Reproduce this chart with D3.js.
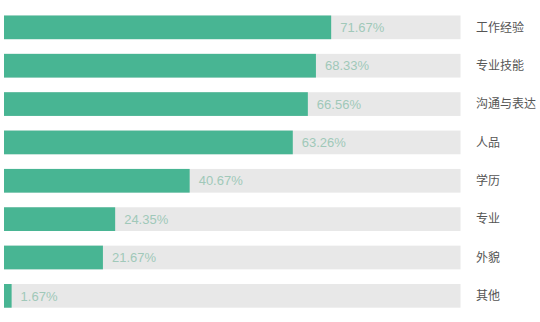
<!DOCTYPE html>
<html><head><meta charset="utf-8">
<script src="https://cdn.jsdelivr.net/npm/d3@7"></script>
<style>html,body{margin:0;padding:0;background:#fff;}svg{display:block;}</style>
</head><body>
<svg id="chart" width="540" height="322"></svg>
<script>
const categories = ["工作经验","专业技能","沟通与表达","人品","学历","专业","外貌","其他"];
const values = [71.67, 68.33, 66.56, 63.26, 40.67, 24.35, 21.67, 1.67];
const valueLabels = ["71.67%","68.33%","66.56%","63.26%","40.67%","24.35%","21.67%","1.67%"];
const maxValue = 100;

const svg = d3.select("#chart");
const x = d3.scaleLinear().domain([0, maxValue]).range([4, 460.5]);
const y = d3.scaleBand().domain(categories).range([15.5, 307.7]).paddingInner(0.382).paddingOuter(0);
const font = "'Noto Sans CJK SC', 'Helvetica Neue', Arial, sans-serif";

const g = svg.append("g");
const rows = g.selectAll("g.row").data(categories).join("g").attr("class","row");

rows.append("rect")
  .attr("x", x(0)).attr("y", d => y(d))
  .attr("width", x(maxValue) - x(0)).attr("height", y.bandwidth())
  .attr("fill", "#e8e8e8");

rows.append("rect")
  .attr("x", x(0)).attr("y", d => y(d))
  .attr("width", (d,i) => x(values[i]) - x(0)).attr("height", y.bandwidth())
  .attr("fill", "#48b593");

rows.append("text")
  .attr("x", (d,i) => x(values[i]) + 9)
  .attr("y", d => y(d) + y.bandwidth()/2)
  .attr("dy", "0.36em")
  .attr("font-family", "Arial, 'Liberation Sans', sans-serif")
  .attr("font-size", 13)
  .attr("fill", "#a0c8b9")
  .text((d,i) => valueLabels[i]);

rows.append("text")
  .attr("x", 476)
  .attr("y", d => y(d) + y.bandwidth()/2)
  .attr("dy", "0.36em")
  .attr("font-family", font)
  .attr("font-size", 12)
  .attr("fill", "#555")
  .text(d => d);
</script>
</body></html>
